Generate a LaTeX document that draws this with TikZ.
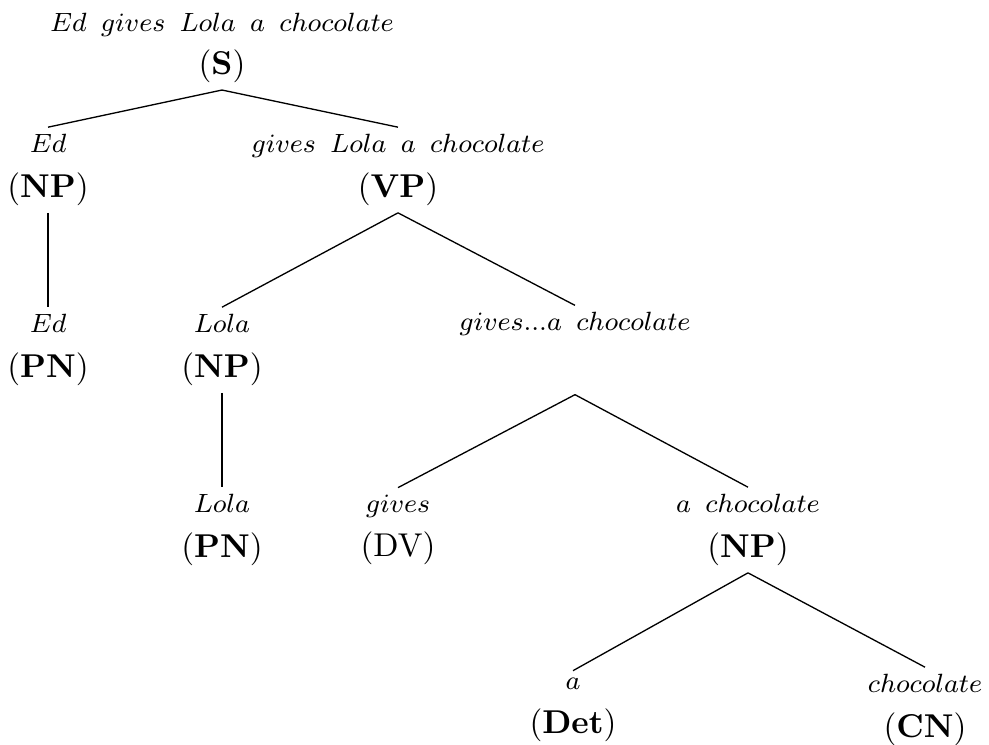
\documentclass[tikz,border=0pt]{standalone}
\usepackage{amsmath}
\usepackage{tikz}
\usetikzlibrary{positioning}

\newcommand{\wrd}[1]{{\fontsize{8.3}{10}\selectfont$#1$}}
\newcommand{\gp}{\ \,}

\begin{document}
\begin{tikzpicture}[x=0.303pt,y=-0.303pt,
    word/.style={align=center,inner sep=2pt},
    branch/.style={line width=0.4pt},
    stem/.style={line width=0.9pt}]
    \useasboundingbox (0,0) rectangle (989,744);
    % constituents
    \node[word] (s)     at (222,48)  {\wrd{Ed\gp gives\gp Lola\gp a\gp chocolate}\\[1pt](\textbf{S})};
    \node[word] (npEd)  at (48,170)  {\wrd{Ed}\\[1.5pt](\textbf{NP})};
    \node[word] (vp)    at (398,170) {\wrd{gives\gp Lola\gp a\gp chocolate}\\[1.5pt](\textbf{VP})};
    \node[word] (pnEd)  at (48,350)  {\wrd{Ed}\\[1.5pt](\textbf{PN})};
    \node[word] (npLo)  at (222,350) {\wrd{Lola}\\[1.5pt](\textbf{NP})};
    \node[word] (gap)   at (575,350) {\wrd{gives...a\gp chocolate}\\[1.5pt]\strut};
    \node[word] (pnLo)  at (222,530) {\wrd{Lola}\\[1.5pt](\textbf{PN})};
    \node[word] (dv)    at (398,530) {\wrd{gives}\\[1.5pt](DV)};
    \node[word] (npCh)  at (748,530) {\wrd{a\gp chocolate}\\[1.5pt](\textbf{NP})};
    \node[word] (det)   at (573,710) {\wrd{a}\\[1.5pt](\textbf{Det})};
    \node[word] (cn)    at (925,710) {\wrd{chocolate}\\[1.5pt](\textbf{CN})};
    % branches
    \draw[branch] (s.south) -- (npEd.north);
    \draw[branch] (s.south) -- (vp.north);
    \draw[stem] (npEd.south) -- (pnEd.north);
    \draw[branch] (vp.south) -- (npLo.north);
    \draw[branch] (vp.south) -- (gap.north);
    \draw[stem] (npLo.south) -- (pnLo.north);
    \draw[branch] (gap.south) -- (dv.north);
    \draw[branch] (gap.south) -- (npCh.north);
    \draw[branch] (npCh.south) -- (det.north);
    \draw[branch] (npCh.south) -- (cn.north);
\end{tikzpicture}
\end{document}
